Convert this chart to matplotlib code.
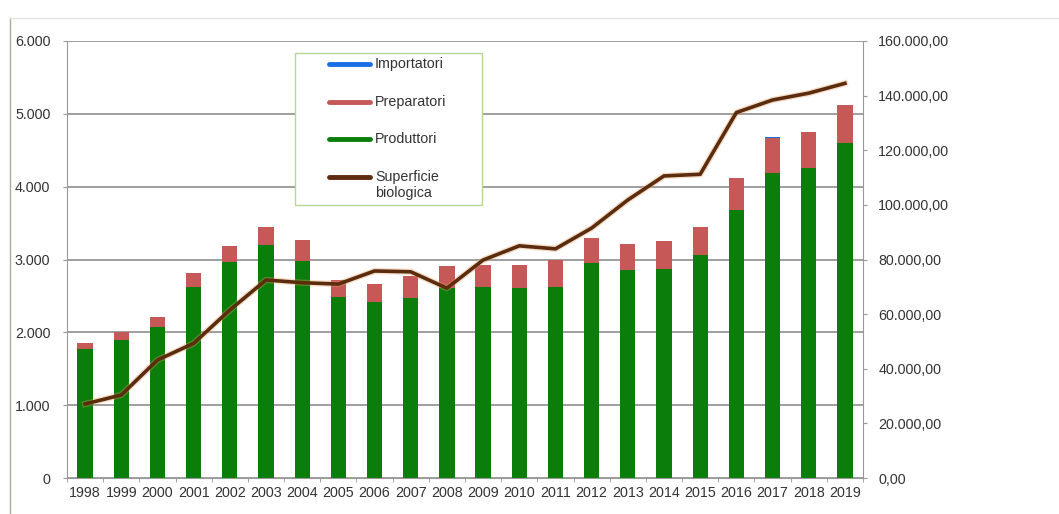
import matplotlib.pyplot as plt
import numpy as np
from matplotlib.lines import Line2D
from matplotlib.patches import Rectangle
from matplotlib.ticker import FuncFormatter

plt.rcParams["font.family"] = ["Liberation Sans", "DejaVu Sans"]

years = [str(y) for y in range(1998, 2020)]
produttori = [1767, 1895, 2078, 2627, 2966, 3199, 2980, 2481, 2412, 2467, 2604,
              2627, 2604, 2627, 2948, 2856, 2870, 3062, 3680, 4184, 4252, 4604]
preparatori = [82, 110, 137, 184, 219, 247, 288, 238, 252, 307, 307,
               298, 321, 366, 347, 357, 384, 380, 435, 484, 495, 517]
importatori = [0, 0, 0, 0, 0, 0, 0, 0, 0, 0, 0,
               0, 0, 0, 0, 0, 0, 0, 0, 10, 0, 0]
superficie = [27100, 30400, 43200, 49300, 61500, 72500, 71500, 71000, 75800, 75500, 69500,
              79800, 85000, 83900, 91500, 101800, 110600, 111200, 133800, 138400, 140900, 144500]
legend_labels = ["Importatori", "Preparatori", "Produttori", "Superficie\nbiologica"]

GREEN = "#0b7d0b"
RED = "#c65858"
BLUE = "#1a6ee6"
BROWN = "#5b2c0e"
TXT = "#333333"
FS = 10.3

W, H = 1059, 514
fig = plt.figure(figsize=(W / 100, H / 100), dpi=100)
ax = fig.add_axes([67 / W, 1 - 478 / H, 796 / W, 437 / H])
x = np.arange(len(years))
w = 0.42

ax.bar(x, produttori, w, color=GREEN, zorder=2)
ax.bar(x, preparatori, w, bottom=produttori, color=RED, zorder=2)
tops = np.array(produttori) + np.array(preparatori)
ax.bar(x, importatori, w, bottom=tops, color=BLUE, zorder=2)

ax.set_xlim(-0.5, len(years) - 0.5)
ax.set_ylim(0, 6000)
ax.set_yticks(range(0, 6001, 1000))
ax.yaxis.set_major_formatter(FuncFormatter(lambda v, p: f"{int(v):,}".replace(",", ".")))
ax.grid(axis="y", color="#858585", linewidth=1.1, zorder=0)
ax.set_axisbelow(True)
ax.set_xticks(x)
ax.set_xticklabels(years, fontsize=FS, color=TXT)
ax.set_xticks(np.arange(-0.5, len(years)), minor=True)
ax.tick_params(axis="x", which="major", length=0, pad=6)
ax.tick_params(axis="x", which="minor", length=3, color="#999999")
ax.tick_params(axis="y", labelsize=FS, labelcolor=TXT, length=3, color="#999999", pad=9)
for s in ("top", "right"):
    ax.spines[s].set_visible(False)
for s in ("left", "bottom"):
    ax.spines[s].set_color("#999999")

ax2 = ax.twinx()
ax2.plot(x, superficie, color="#e3a060", linewidth=4.5, alpha=0.35, zorder=3)
ax2.plot(x, superficie, color=BROWN, linewidth=2.6, zorder=4)
ax2.set_ylim(0, 160000)
ax2.set_yticks(range(0, 160001, 20000))
ax2.yaxis.set_major_formatter(
    FuncFormatter(lambda v, p: f"{int(v):,}".replace(",", ".") + ",00"))
ax2.tick_params(axis="y", labelsize=FS, labelcolor=TXT, length=3, color="#999999", pad=8)
for s in ("top", "left", "bottom"):
    ax2.spines[s].set_visible(False)
ax2.spines["right"].set_color("#999999")

# legend box drawn in figure pixels, like the original
fig.add_artist(Rectangle((295 / W, 1 - 205 / H), 187 / W, 152 / H, transform=fig.transFigure,
                         facecolor="white", edgecolor="#b7d890", linewidth=1.0, zorder=10))
for i, (col, lab) in enumerate(zip([BLUE, RED, GREEN, BROWN], legend_labels)):
    yy = 1 - (64 + i * 37.7) / H
    fig.add_artist(Line2D([329 / W, 370 / W], [yy, yy], color=col, linewidth=3.5,
                          solid_capstyle="round", zorder=11))
    if "\n" in lab:
        fig.text(375 / W, yy + 7 / H, lab, fontsize=FS, color=TXT, va="top", ha="left",
                 zorder=12, linespacing=1.15)
    else:
        fig.text(375 / W, yy, lab, fontsize=FS, color=TXT, va="center", ha="left", zorder=12)

# screenshot frame lines
fig.add_artist(Line2D([10 / W, 10 / W], [0, 1 - 18 / H], color="#b0a890", linewidth=1))
fig.add_artist(Line2D([10 / W, 1], [1 - 18 / H, 1 - 18 / H], color="#e2e2e2", linewidth=1))

fig.savefig("out.png", dpi=100)
